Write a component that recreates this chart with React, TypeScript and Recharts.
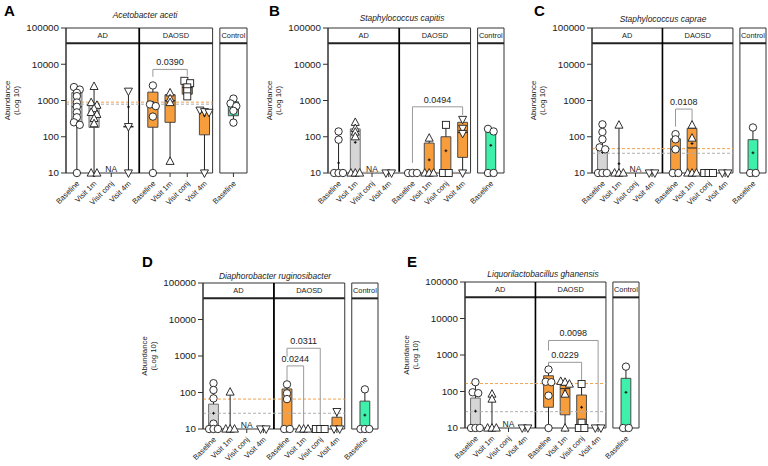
import React from "react";
import {
  ComposedChart,
  XAxis,
  YAxis,
  Scatter,
  ReferenceArea,
  ReferenceLine,
  ReferenceDot,
} from "recharts";

const FONT = "'Liberation Sans', Arial, Helvetica, sans-serif";

// ---- shared categories / ticks ----
const categories = [
  "Baseline", "Visit 1m", "Visit conj", "Visit 4m",
  "Baseline", "Visit 1m", "Visit conj", "Visit 4m",
  "Baseline",
];
const groupNames = ["AD", "DAOSD", "Control"];
const markerKinds = ["circle", "triangle", "square", "down", "circle", "triangle", "square", "down", "circle"];
const yTicks = [10, 100, 1000, 10000, 100000];

// ---- panel A: Acetobacter aceti ----
const acetiPoints = [
  [2350, 2000, 1630, 1320, 880, 670, 470, 345, 250, 213, 10],
  [2450, 880, 740, 600, 470, 415, 320, 230, 10, 10],
  [],
  [1800, 190, 10],
  [2600, 780, 700, 360, 10],
  [1630, 1120, 880, 21],
  [3500, 3000, 2300, 1800, 1300],
  [540, 490, 470, 10],
  [1130, 830, 700, 520, 245],
];
// [min, q1, median, q3, max]
const acetiBoxes = [
  [10, 230, 670, 1650, 2350],
  [10, 180, 430, 830, 2450],
  null,
  [10, 190, 190, 190, 1800],
  [10, 183, 740, 1700, 2600],
  [21, 250, 1000, 1450, 1630],
  [1300, 1500, 2300, 3100, 3500],
  [10, 113, 480, 540, 540],
  [245, 380, 700, 920, 1130],
];
const acetiMeans = [920, 560, null, 667, 890, 910, 2400, 380, 690];
const acetiDashed = [900, 790]; // orange, grey
const acetiBrackets = [{ from: 4, to: 6, top: 7200, left: 4500, right: 4800, p: "0.0390" }];

// ---- panel B: Staphylococcus capitis ----
const capitisPoints = [
  [140, 83, 10, 10, 10],
  [250, 170, 135, 100, 10, 10, 10],
  [],
  [10, 10],
  [10, 10, 10],
  [92, 10, 10, 10],
  [213, 10, 10],
  [300, 170, 123, 10],
  [165, 140, 10, 10],
];
const capitisBoxes = [
  [10, 10, 10, 10, 140],
  [10, 10, 10, 165, 250],
  null,
  [10, 10, 10, 10, 10],
  [10, 10, 10, 10, 10],
  [10, 10, 10, 67, 92],
  [10, 10, 10, 100, 213],
  [10, 27, 130, 250, 300],
  [10, 10, 10, 140, 165],
];
const capitisMeans = [19, 70, null, null, null, 23, 41, 150, 58];
const capitisDashed = [null, 10.5];
const capitisBrackets = [{ from: 4, to: 7, top: 670, left: 19, right: 400, p: "0.0494" }];

// ---- panel C: Staphylococcus caprae ----
const capraePoints = [
  [220, 135, 85, 51, 45, 10, 10, 10],
  [210, 10, 10, 10],
  [],
  [10, 10],
  [118, 85, 45, 10, 10],
  [210, 92, 10, 10, 10],
  [10, 10, 10],
  [10, 10],
  [180, 10, 10],
];
const capraeBoxes = [
  [10, 10, 10, 49, 220],
  [10, 10, 10, 10, 210],
  null,
  [10, 10, 10, 10, 10],
  [10, 10, 45, 88, 118],
  [10, 10, 49, 170, 210],
  [10, 10, 10, 10, 10],
  [10, 10, 10, 10, 10],
  [10, 10, 10, 83, 180],
];
const capraeMeans = [37, 18, null, null, 50, 65, null, null, 36];
const capraeDashed = [47, 35];
const capraeBrackets = [{ from: 4, to: 5, top: 580, left: 190, right: 260, p: "0.0108" }];

// ---- panel D: Diaphorobacter ruginosibacter ----
const diaphPoints = [
  [180, 117, 69, 14, 10, 10, 10],
  [103, 10, 10, 10],
  [],
  [10, 10],
  [167, 95, 66, 10, 10],
  [10, 10, 10],
  [10, 10, 10],
  [30, 10, 10],
  [122, 10, 10, 10],
];
const diaphBoxes = [
  [10, 10, 10, 48, 180],
  [10, 10, 10, 10, 103],
  null,
  [10, 10, 10, 10, 10],
  [10, 10, 10, 125, 167],
  [10, 10, 10, 10, 10],
  [10, 10, 10, 10, 10],
  [10, 10, 10, 21, 30],
  [10, 10, 10, 58, 122],
];
const diaphMeans = [27, null, null, null, null, null, null, null, 24];
const diaphDashed = [66, 27];
const diaphBrackets = [
  { from: 4, to: 5, top: 535, left: 220, right: 12, p: "0.0244" },
  { from: 4, to: 6, top: 1630, left: 950, right: 12, p: "0.0311" },
];

// ---- panel E: Liquorilactobacillus ghanensis ----
const ghanPoints = [
  [180, 95, 90, 10, 10, 10],
  [85, 62, 10, 10, 10],
  [],
  [10, 10],
  [400, 185, 180, 77, 10],
  [190, 180, 160, 85, 10],
  [160, 14, 10, 10],
  [10, 10],
  [480, 10, 10],
];
const ghanBoxes = [
  [10, 10, 10, 66, 180],
  [10, 10, 10, 10, 85],
  null,
  [10, 10, 10, 10, 10],
  [10, 37, 180, 270, 400],
  [10, 23, 120, 150, 190],
  [10, 10, 10, 80, 160],
  [10, 10, 10, 10, 10],
  [10, 10, 10, 230, 480],
];
const ghanMeans = [29, null, null, null, 170, 105, 37, null, 95];
const ghanDashed = [165, 28];
const ghanBrackets = [
  { from: 4, to: 6, top: 630, left: 460, right: 200, p: "0.0229" },
  { from: 4, to: 7, top: 2500, left: 1320, right: 14, p: "0.0098" },
];

// ---- layout (x axis units, domain 0..10) ----
const slotPos = [0.6, 1.55, 2.5, 3.45, 4.8, 5.75, 6.7, 7.65, 9.25];
const sections = [[0, 4.05], [4.05, 8.1], [8.5, 10]];
const HEADER_Y = 38000;
const HALF = 0.28;

const boxFill = (i: number) => (i < 4 ? "#d6d6d6" : i < 8 ? "#f79d3c" : "#3ff0ab");
const boxStroke = (i: number) => (i < 4 ? "#6e6e6e" : "#4a4a4a");

// side-by-side placement of points that sit at (almost) the same value
function spread(values: number[], pos: number) {
  const sorted = [...values].sort((a, b) => b - a);
  const out: { x: number; y: number }[] = [];
  let i = 0;
  while (i < sorted.length) {
    let j = i;
    while (j + 1 < sorted.length && Math.log10(sorted[i]) - Math.log10(sorted[j + 1]) < 0.09) j++;
    const n = j - i + 1;
    const w = Math.min(0.32 * (n - 1), 0.5);
    for (let k = 0; k < n; k++) {
      out.push({ x: pos + (n === 1 ? 0 : (k / (n - 1) - 0.5) * w), y: sorted[i + k] });
    }
    i = j + 1;
  }
  return out;
}

const markerShape = (kind: string) => (props: any) => {
  const { cx, cy } = props;
  const st = { fill: "#fff", stroke: "#1a1a1a", strokeWidth: 0.9 };
  if (kind === "circle") return <circle cx={cx} cy={cy} r={3.7} {...st} />;
  if (kind === "square") return <rect x={cx - 3.5} y={cy - 3.5} width={7} height={7} {...st} />;
  if (kind === "triangle")
    return <polygon points={`${cx},${cy - 4.4} ${cx + 4},${cy + 3.1} ${cx - 4},${cy + 3.1}`} {...st} />;
  return <polygon points={`${cx},${cy + 4.4} ${cx + 4},${cy - 3.1} ${cx - 4},${cy - 3.1}`} {...st} />;
};

const meanShape = (props: any) => {
  const { cx, cy } = props;
  return (
    <path d={`M${cx - 1.4},${cy}h2.8M${cx},${cy - 1.4}v2.8`} stroke="#111" strokeWidth={1} />
  );
};

const XTick = (props: any) => {
  const { x, y, payload } = props;
  const i = slotPos.indexOf(payload.value);
  return (
    <g transform={`translate(${x + 3},${y + 5})`}>
      <text
        x={0}
        y={0}
        transform="rotate(-45)"
        textAnchor="end"
        fontSize={7.6}
        fontFamily={FONT}
        fill="#222"
      >
        {categories[i]}
      </text>
    </g>
  );
};

type Bracket = { from: number; to: number; top: number; left: number; right: number; p: string };

type PanelProps = {
  x0: number;
  y0: number;
  x1: number;
  y1: number;
  letter: string;
  letterPos: [number, number];
  title: string;
  titlePos: [number, number];
  points: number[][];
  boxes: (number[] | null)[];
  means: (number | null)[];
  dashed: (number | null)[];
  brackets: Bracket[];
};

function Panel(p: PanelProps) {
  const yW = 66;
  const mR = 9;
  const mT = 28;
  const xH = 60;
  const mB = 2;
  const width = p.x1 - p.x0 + yW + mR;
  const height = p.y1 - p.y0 + mT + xH + mB;
  const left = p.x0 - yW;
  const top = p.y0 - mT;
  const midY = mT + (p.y1 - p.y0) / 2;
  const seg = (ax: number, ay: number, bx: number, by: number) => [
    { x: ax, y: ay },
    { x: bx, y: by },
  ];

  return (
    <div style={{ position: "absolute", left, top, width, height }}>
      <ComposedChart width={width} height={height} margin={{ top: mT, right: mR, bottom: mB, left: 0 }}>
        <XAxis
          type="number"
          dataKey="x"
          domain={[0, 10]}
          ticks={slotPos}
          interval={0}
          axisLine={false}
          tickLine={{ stroke: "#333" }}
          tickSize={4}
          height={xH}
          tick={<XTick />}
        />
        <YAxis
          type="number"
          dataKey="y"
          scale="log"
          domain={[10, 100000]}
          ticks={yTicks}
          interval={0}
          width={yW}
          tickSize={5}
          stroke="#333"
          tick={{ fontSize: 9.8, fill: "#1a1a1a", fontFamily: FONT }}
          tickFormatter={(v: number) => String(v)}
        />

        {sections.map((s, k) => (
          <ReferenceArea
            key={`frame${k}`}
            x1={s[0]}
            x2={s[1]}
            y1={10}
            y2={100000}
            fill="none"
            stroke="#333"
            strokeWidth={1}
            ifOverflow="visible"
          />
        ))}
        {sections.map((s, k) => (
          <ReferenceArea
            key={`head${k}`}
            x1={s[0]}
            x2={s[1]}
            y1={HEADER_Y}
            y2={100000}
            fill="#fff"
            fillOpacity={0}
            stroke="none"
            ifOverflow="visible"
            label={{ value: groupNames[k], position: "center", fontSize: 7.4, fill: "#222", fontFamily: FONT }}
          />
        ))}
        <ReferenceLine
          segment={seg(0, HEADER_Y, 8.1, HEADER_Y)}
          stroke="#222"
          strokeWidth={2}
          ifOverflow="visible"
        />
        <ReferenceLine
          segment={seg(8.5, HEADER_Y, 10, HEADER_Y)}
          stroke="#222"
          strokeWidth={2}
          ifOverflow="visible"
        />
        <ReferenceLine segment={seg(4.05, 10, 4.05, 100000)} stroke="#000" strokeWidth={1.6} ifOverflow="visible" />

        {p.dashed[0] != null && (
          <ReferenceLine
            segment={seg(0, p.dashed[0] as number, 8.1, p.dashed[0] as number)}
            stroke="#f5a24c"
            strokeDasharray="3 2"
            strokeWidth={1}
            ifOverflow="visible"
          />
        )}
        {p.dashed[1] != null && (
          <ReferenceLine
            segment={seg(0, p.dashed[1] as number, 8.1, p.dashed[1] as number)}
            stroke="#b0b0b0"
            strokeDasharray="3 2"
            strokeWidth={1}
            ifOverflow="visible"
          />
        )}

        {p.boxes.map((b, i) =>
          b ? (
            <React.Fragment key={`wh${i}`}>
              {b[1] > b[0] && (
                <ReferenceLine
                  segment={seg(slotPos[i], b[0], slotPos[i], b[1])}
                  stroke="#222"
                  strokeWidth={1}
                  ifOverflow="visible"
                />
              )}
              {b[4] > b[3] && (
                <ReferenceLine
                  segment={seg(slotPos[i], b[3], slotPos[i], b[4])}
                  stroke="#222"
                  strokeWidth={1}
                  ifOverflow="visible"
                />
              )}
            </React.Fragment>
          ) : null
        )}
        {p.boxes.map((b, i) =>
          b && b[3] > b[1] ? (
            <ReferenceArea
              key={`box${i}`}
              x1={slotPos[i] - HALF}
              x2={slotPos[i] + HALF}
              y1={b[1]}
              y2={b[3]}
              fill={boxFill(i)}
              fillOpacity={1}
              stroke={boxStroke(i)}
              strokeWidth={1}
              ifOverflow="visible"
            />
          ) : null
        )}
        {p.boxes.map((b, i) =>
          b && b[2] > 10 ? (
            <ReferenceLine
              key={`med${i}`}
              segment={seg(slotPos[i] - HALF, b[2], slotPos[i] + HALF, b[2])}
              stroke="#222"
              strokeWidth={b[3] > b[1] ? 1 : 1.6}
              ifOverflow="visible"
            />
          ) : null
        )}

        {p.boxes.map((b, i) =>
          b === null ? (
            <ReferenceDot
              key={`na${i}`}
              x={slotPos[i]}
              y={10}
              r={0}
              fill="none"
              stroke="none"
              ifOverflow="visible"
              label={{ value: "NA", position: "top", offset: 1, fontSize: 8.5, fill: "#222", fontFamily: FONT }}
            />
          ) : null
        )}

        {p.brackets.map((br, k) => (
          <React.Fragment key={`br${k}`}>
            <ReferenceLine
              segment={seg(slotPos[br.from], br.left, slotPos[br.from], br.top)}
              stroke="#9a9a9a"
              strokeWidth={1}
              ifOverflow="visible"
            />
            <ReferenceLine
              segment={seg(slotPos[br.from], br.top, slotPos[br.to], br.top)}
              stroke="#9a9a9a"
              strokeWidth={1}
              ifOverflow="visible"
            />
            <ReferenceLine
              segment={seg(slotPos[br.to], br.top, slotPos[br.to], br.right)}
              stroke="#9a9a9a"
              strokeWidth={1}
              ifOverflow="visible"
            />
            <ReferenceDot
              x={(slotPos[br.from] + slotPos[br.to]) / 2}
              y={br.top}
              r={0}
              fill="none"
              stroke="none"
              ifOverflow="visible"
              label={{ value: br.p, position: "top", offset: 4, fontSize: 9, fill: "#222", fontFamily: FONT }}
            />
          </React.Fragment>
        ))}

        {p.means.map((m, i) =>
          m != null ? (
            <Scatter
              key={`mean${i}`}
              data={[{ x: slotPos[i], y: m }]}
              shape={meanShape}
              isAnimationActive={false}
            />
          ) : null
        )}
        {p.points.map((vals, i) =>
          vals.length ? (
            <Scatter
              key={`pts${i}`}
              data={spread(vals, slotPos[i])}
              shape={markerShape(markerKinds[i])}
              isAnimationActive={false}
            />
          ) : null
        )}
      </ComposedChart>
      <svg
        width={width}
        height={height}
        style={{ position: "absolute", left: 0, top: 0, pointerEvents: "none", overflow: "visible" }}
      >
        <text x={p.letterPos[0] - left} y={p.letterPos[1] - top} fontSize={15} fontWeight="bold" fontFamily={FONT} fill="#000">
          {p.letter}
        </text>
        <text
          x={p.titlePos[0] - left}
          y={p.titlePos[1] - top}
          textAnchor="middle"
          fontSize={8.4}
          fontStyle="italic"
          fontFamily={FONT}
          fill="#222"
        >
          {p.title}
        </text>
        <text
          transform={`translate(${yW - 56},${midY}) rotate(-90)`}
          textAnchor="middle"
          fontSize={7.8}
          fontFamily={FONT}
          fill="#222"
        >
          <tspan x={0} y={0}>Abundance</tspan>
          <tspan x={0} y={9}>(Log 10)</tspan>
        </text>
      </svg>
    </div>
  );
}

export default function App() {
  return (
    <div
      style={{
        position: "absolute",
        left: 0,
        top: 0,
        width: 768,
        height: 466,
        background: "#fff",
        overflow: "hidden",
        opacity: 0.999,
      }}
    >
      <Panel
        x0={66} y0={28} x1={247} y1={173}
        letter="A" letterPos={[4, 16]}
        title="Acetobacter aceti" titlePos={[145, 18]}
        points={acetiPoints} boxes={acetiBoxes} means={acetiMeans}
        dashed={acetiDashed} brackets={acetiBrackets}
      />
      <Panel
        x0={328} y0={28} x1={504} y1={173}
        letter="B" letterPos={[269, 16]}
        title="Staphylococcus capitis" titlePos={[402, 21]}
        points={capitisPoints} boxes={capitisBoxes} means={capitisMeans}
        dashed={capitisDashed} brackets={capitisBrackets}
      />
      <Panel
        x0={592} y0={28} x1={766} y1={173}
        letter="C" letterPos={[534, 16]}
        title="Staphylococcus caprae" titlePos={[663, 22]}
        points={capraePoints} boxes={capraeBoxes} means={capraeMeans}
        dashed={capraeDashed} brackets={capraeBrackets}
      />
      <Panel
        x0={203} y0={283} x1={378} y1={429}
        letter="D" letterPos={[142, 267]}
        title="Diaphorobacter ruginosibacter" titlePos={[275, 279]}
        points={diaphPoints} boxes={diaphBoxes} means={diaphMeans}
        dashed={diaphDashed} brackets={diaphBrackets}
      />
      <Panel
        x0={465} y0={282} x1={639} y1={428}
        letter="E" letterPos={[407, 267]}
        title="Liquorilactobacillus ghanensis" titlePos={[543, 277]}
        points={ghanPoints} boxes={ghanBoxes} means={ghanMeans}
        dashed={ghanDashed} brackets={ghanBrackets}
      />
    </div>
  );
}
